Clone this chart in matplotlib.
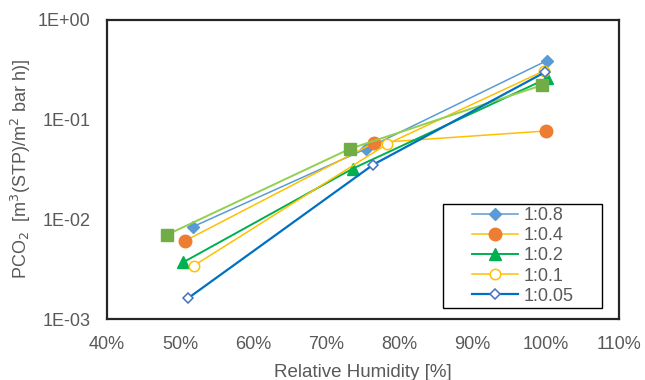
import matplotlib
matplotlib.use("Agg")
import matplotlib.pyplot as plt
from matplotlib.ticker import FixedLocator, NullLocator
from matplotlib.patches import Rectangle

plt.rcParams['font.family'] = ['Liberation Sans', 'DejaVu Sans']

labels = ["1:0.8", "1:0.4", "1:0.2", "1:0.1", "1:0.05"]
x_08 = [51.7, 75.4, 100.1]
y_08 = [0.0084, 0.051, 0.39]
x_04 = [50.7, 76.5, 100.0]
y_04 = [0.0061, 0.0586, 0.077]
x_02 = [50.4, 73.6, 100.2]
y_02 = [0.0037, 0.0323, 0.26]
x_01 = [51.9, 78.3, 99.8]
y_01 = [0.00344, 0.057, 0.31]
x_005 = [51.1, 76.4, 99.9]
y_005 = [0.00162, 0.0354, 0.30]
x_sq = [48.2, 73.2, 99.5]
y_sq = [0.0070, 0.051, 0.222]

xticks = [40, 50, 60, 70, 80, 90, 100, 110]
yticks = [1e-3, 1e-2, 1e-1, 1e0]
ytick_labels = ["1E-03", "1E-02", "1E-01", "1E+00"]

fig = plt.figure(figsize=(6.45, 3.8), dpi=100)
ax = fig.add_axes([107/645, 1-319/380, 512/645, 299/380])

ax.plot(x_08, y_08, color='#5B9BD5', lw=1.1, marker='D', ms=6.5, mfc='#5B9BD5', mec='#5B9BD5', label=labels[0], zorder=3)
ax.plot(x_04, y_04, color='#FFC000', lw=1.1, marker='o', ms=9, mfc='#ED7D31', mec='#ED7D31', label=labels[1], zorder=3)
ax.plot(x_02, y_02, color='#00B050', lw=1.4, marker='^', ms=8.5, mfc='#00B050', mec='#00B050', label=labels[2], zorder=3)
ax.plot(x_01, y_01, color='#FFC000', lw=1.1, marker='o', ms=7.5, mfc='white', mec='#FFC000', mew=1.1, label=labels[3], zorder=4)
ax.plot(x_005, y_005, color='#0070C0', lw=1.6, marker='D', ms=5.5, mfc='white', mec='#4472C4', mew=1.1, label=labels[4], zorder=5)
ax.plot(x_sq, y_sq, color='#92D050', lw=1.4, marker='s', ms=9, mfc='#70AD47', mec='#70AD47', zorder=4, label='_nolegend_')

ax.set_yscale('log')
ax.set_xlim(40, 110)
ax.set_ylim(1e-3, 1e0)
ax.xaxis.set_major_locator(FixedLocator(xticks))
ax.set_xticklabels([f"{t}%" for t in xticks])
ax.yaxis.set_major_locator(FixedLocator(yticks))
ax.yaxis.set_minor_locator(NullLocator())
ax.set_yticklabels(ytick_labels)
ax.tick_params(axis='both', length=0, labelsize=13, labelcolor='#595959', pad=12)

for s in ax.spines.values():
    s.set_color('#262626')
    s.set_linewidth(1.6)

ax.set_xlabel("Relative Humidity [%]", fontsize=13.5, color='#595959', labelpad=8)
ax.set_ylabel("PCO$_2$  [m$^3$(STP)/m$^2$ bar h)]", fontsize=13, color='#595959', labelpad=3)

# legend frame box
bx0, bx1 = (443-107)/512, (602-107)/512
by0, by1 = (319-308)/299, (319-204)/299
ax.add_patch(Rectangle((bx0, by0), bx1-bx0, by1-by0, transform=ax.transAxes,
                       facecolor='white', edgecolor='#000000', lw=1.0, zorder=6))
leg = ax.legend(loc='center', bbox_to_anchor=((bx0+bx1)/2, (by0+by1)/2),
                fontsize=13, handlelength=2.6, frameon=False,
                borderpad=0.0, labelspacing=0.17, handletextpad=0.28, borderaxespad=0)
leg.set_zorder(7)
for t in leg.get_texts():
    t.set_color('#595959')

fig.savefig('out.png', dpi=100)
